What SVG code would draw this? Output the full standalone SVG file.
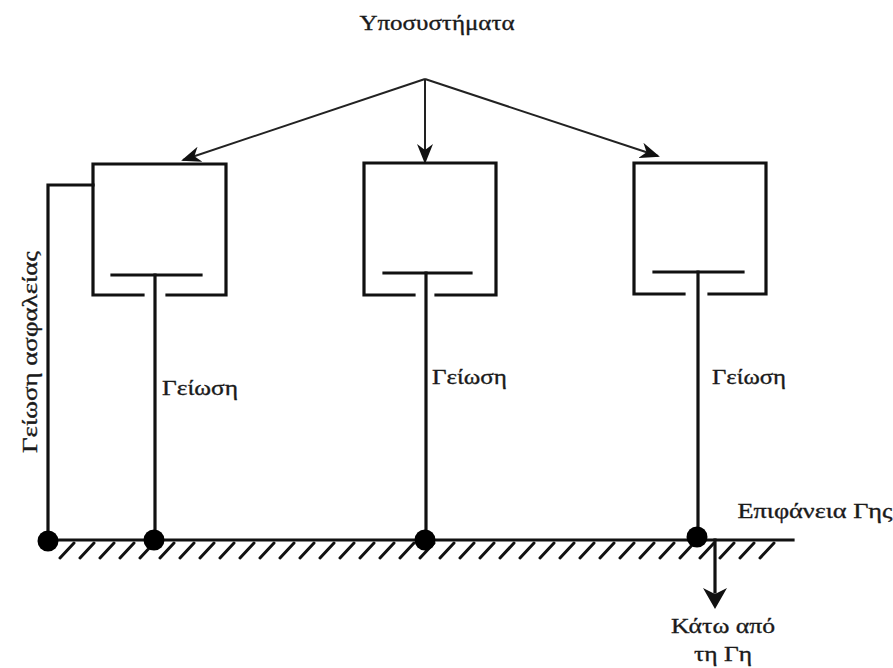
<svg xmlns="http://www.w3.org/2000/svg" width="893" height="668" viewBox="0 0 893 668">
  <style>
    .ln { stroke: #111; stroke-width: 3.2; fill: none; stroke-linecap: square; }
    .thin { stroke: #222; stroke-width: 2; fill: none; }
    .lbl { font-family: "Liberation Serif", "DejaVu Serif", serif; font-size: 22px; fill: #1a1a1a; stroke: #1a1a1a; stroke-width: 0.35; }
    .dot { fill: #000; }
    .hatch { stroke: #111; stroke-width: 3; stroke-linecap: round; }
  </style>
  <defs>
    <marker id="barb" viewBox="0 0 20 16" refX="18" refY="8" markerWidth="20" markerHeight="16" markerUnits="userSpaceOnUse" orient="auto">
      <path d="M0,0 L20,8 L0,16 L6,8 Z" fill="#111"/>
    </marker>
  </defs>

  <rect width="893" height="668" fill="#fff"/>

  <!-- title -->
  <g id="title">
    <text class="lbl" x="437" y="30" text-anchor="middle" textLength="155" lengthAdjust="spacingAndGlyphs">Υποσυστήματα</text>
  </g>

  <!-- subsystem 1 -->
  <g id="sub1">
    <path class="ln" d="M143,295 H93 V164 H226 V295 H167"/>
    <line class="ln" x1="112" y1="275" x2="201" y2="275"/>
  </g>

  <!-- subsystem 2 -->
  <g id="sub2">
    <path class="ln" d="M414,295 H364 V163 H496 V295 H436"/>
    <line class="ln" x1="384" y1="273" x2="471" y2="273"/>
  </g>

  <!-- subsystem 3 -->
  <g id="sub3">
    <path class="ln" d="M684,294 H634 V163 H766 V294 H709"/>
    <line class="ln" x1="654" y1="272" x2="743" y2="272"/>
  </g>

  <!-- earth surface -->
  <g id="ground">
    <line class="ln" x1="40" y1="540" x2="793" y2="540"/>
    <g class="hatch">
      <path d="M60,558 L74,543 M80,558 L94,543 M100,558 L114,543 M120,558 L134,543 M140,558 L154,543 M160,558 L174,543 M180,558 L194,543 M200,558 L214,543 M220,558 L234,543 M240,558 L254,543 M260,558 L274,543 M280,558 L294,543 M300,558 L314,543 M320,558 L334,543 M340,558 L354,543 M360,558 L374,543 M380,558 L394,543 M400,558 L414,543 M420,558 L434,543 M440,558 L454,543 M460,558 L474,543 M480,558 L494,543 M500,558 L514,543 M520,558 L534,543 M540,558 L554,543 M560,558 L574,543 M580,558 L594,543 M600,558 L614,543 M620,558 L634,543 M640,558 L654,543 M660,558 L674,543 M680,558 L694,543 M700,558 L714,543 M720,558 L734,543 M740,558 L754,543 M760,558 L774,543"/>
    </g>
  </g>

  <!-- connectors -->
  <g id="connectors">
    <line class="thin" x1="425" y1="79" x2="183" y2="160" marker-end="url(#barb)"/>
    <line class="thin" x1="425" y1="79" x2="425" y2="162" marker-end="url(#barb)"/>
    <line class="thin" x1="425" y1="79" x2="658" y2="156" marker-end="url(#barb)"/>
    <path class="ln" d="M93,185 H48 V540"/>
    <line class="ln" x1="155" y1="275" x2="155" y2="540"/>
    <line class="ln" x1="426" y1="273" x2="426" y2="540"/>
    <line class="ln" x1="698" y1="272" x2="698" y2="540"/>
    <line class="ln" x1="715" y1="540" x2="715" y2="592"/>
    <path d="M703,588 L715,609 L727,588 L715,594 Z" fill="#111"/>
    <circle class="dot" cx="48" cy="541" r="10.5"/>
    <circle class="dot" cx="154" cy="540" r="10.5"/>
    <circle class="dot" cx="425" cy="540" r="10.5"/>
    <circle class="dot" cx="697" cy="537" r="10.5"/>
  </g>

  <!-- labels -->
  <g id="labels">
    <text class="lbl" x="162" y="395" textLength="76" lengthAdjust="spacingAndGlyphs">Γείωση</text>
    <text class="lbl" x="432" y="384" textLength="75" lengthAdjust="spacingAndGlyphs">Γείωση</text>
    <text class="lbl" x="712" y="384" textLength="74" lengthAdjust="spacingAndGlyphs">Γείωση</text>
    <text class="lbl" x="815" y="518" text-anchor="middle" textLength="155" lengthAdjust="spacingAndGlyphs">Επιφάνεια Γης</text>
    <text class="lbl" x="723" y="633" text-anchor="middle" textLength="104" lengthAdjust="spacingAndGlyphs">Κάτω από</text>
    <text class="lbl" x="723" y="661" text-anchor="middle" textLength="58" lengthAdjust="spacingAndGlyphs">τη Γη</text>
    <text class="lbl" transform="translate(37,352) rotate(-90)" text-anchor="middle" textLength="202" lengthAdjust="spacingAndGlyphs">Γείωση ασφαλείας</text>
  </g>
</svg>
